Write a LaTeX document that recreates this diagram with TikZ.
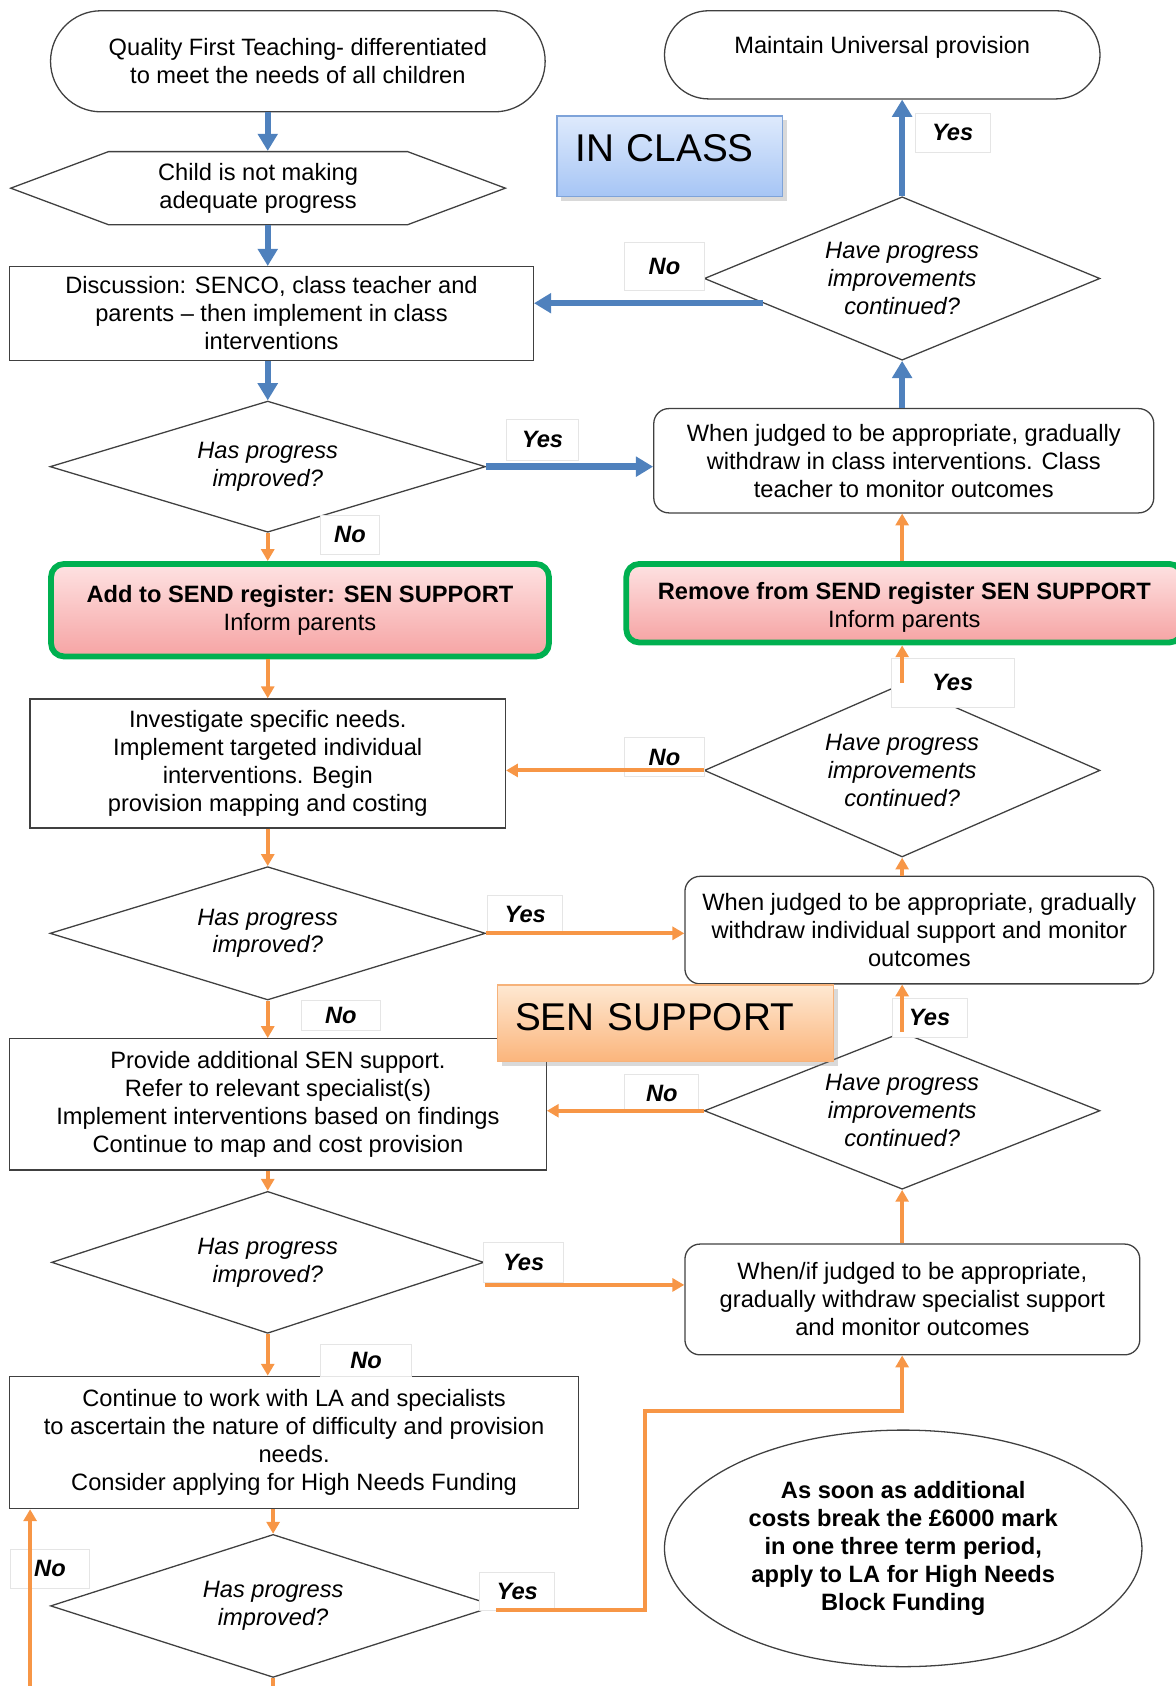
\documentclass[tikz,border=0pt]{standalone}
\usepackage{fontspec}
\setmainfont{Liberation Sans}
\usetikzlibrary{shapes.geometric,shapes.misc,shapes.symbols}
\usetikzlibrary{arrows.meta,shadows,calc}
\definecolor{classblue}{RGB}{79,129,189}
\definecolor{suporange}{RGB}{247,150,70}
\definecolor{reggreen}{RGB}{0,176,80}
\newcommand{\chartfont}{\fontsize{11pt}{13pt}\selectfont}
\newcommand{\bigchartfont}{\fontsize{18pt}{21pt}\selectfont}
\tikzset{term node/.style={rounded rectangle,draw=black!75,line width=0.6pt,align=center,inner sep=0pt},
  proc node/.style={rectangle,draw=black!75,line width=0.6pt,align=center,inner sep=0pt},
  soft node/.style={rectangle,rounded corners=7pt,draw=black!75,line width=0.6pt,align=center,inner sep=0pt},
  hex node/.style={signal,signal to=east and west,signal pointer angle=41,draw=black!75,line width=0.6pt,align=center,inner sep=0pt},
  dec node/.style={diamond,aspect=2.5,draw=black!75,line width=0.6pt,align=center,inner sep=0pt,font=\chartfont\itshape},
  reg node/.style={rectangle,rounded corners=6pt,draw=reggreen,line width=2.7pt,top color={rgb,255:red,254;green,226;blue,226},bottom color={rgb,255:red,246;green,164;blue,164},align=center,inner sep=0pt},
  head node/.style={rectangle,line width=0.6pt,align=left,font=\bigchartfont,text height=13pt,drop shadow={opacity=0.3,shadow xshift=2pt,shadow yshift=-2pt}},
  tag node/.style={rectangle,fill=white,draw=black!10,line width=0.4pt,font=\chartfont\bfseries\itshape,minimum width=35pt,minimum height=18pt,inner sep=0pt},
  blue arrow/.style={color=classblue,line width=3pt,-{Triangle[width=9pt,length=8pt]}},
  orange arrow/.style={color=suporange,line width=1.8pt,-{Triangle[width=6pt,length=5.5pt]}},}

\begin{document}
\begin{tikzpicture}[x=0.5pt,y=-0.5pt,font=\chartfont]
  \useasboundingbox (0,0) rectangle (1093,1568);
  \coordinate (lx) at (249,0);
  \coordinate (rx) at (839,0);

  % left column
  \node[term node,minimum width=230pt,minimum height=47pt] (qft) at (277,57) {Quality First Teaching- differentiated\\to meet the needs of all children};
  \node[hex node,minimum width=230pt,minimum height=34pt] (hex) at (240,175) {Child is not making\\adequate progress};
  \node[proc node,minimum width=243.5pt,minimum height=43.5pt] (disc) at (252.5,291.5) {Discussion: SENCO, class teacher and\\parents -- then implement in class\\interventions};
  \node[dec node,minimum width=202.5pt,minimum height=61pt] (d1) at (249,434) {Has progress\\improved?};
  \node[reg node,minimum width=231.5pt,minimum height=43pt] (add) at (279,567.5) {\textbf{Add to SEND register: SEN SUPPORT}\\Inform parents};
  \node[proc node,minimum width=221pt,minimum height=60pt] (inv) at (249,710) {Investigate specific needs.\\Implement targeted individual\\interventions. Begin\\provision mapping and costing};
  \node[dec node,minimum width=202.5pt,minimum height=62pt] (d2) at (249,868) {Has progress\\improved?};
  \node[proc node,minimum width=249.5pt,minimum height=61pt] (prov) at (258.5,1027) {Provide additional SEN support.\\Refer to relevant specialist(s)\\Implement interventions based on findings\\Continue to map and cost provision};
  \node[dec node,minimum width=201pt,minimum height=66pt] (d3) at (249,1174) {Has progress\\improved?};
  \node[proc node,minimum width=264.5pt,minimum height=61.5pt] (cont) at (273.5,1341.5) {Continue to work with LA and specialists\\to ascertain the nature of difficulty and provision\\needs.\\Consider applying for High Needs Funding};
  \node[dec node,minimum width=207pt,minimum height=66.5pt] (d4) at (254,1493.5) {Has progress\\improved?};

  % right column
  \node[term node,minimum width=202.5pt,minimum height=41pt,text height=8pt,text depth=9.3pt] (maintain) at (820.5,51) {Maintain Universal provision};
  \node[dec node,minimum width=184pt,minimum height=76pt] (dR1) at (839,259) {Have progress\\improvements\\continued?};
  \node[soft node,minimum width=232.5pt,minimum height=48.5pt] (wd1) at (840.5,428.5) {When judged to be appropriate, gradually\\withdraw in class interventions. Class\\teacher to monitor outcomes};
  \node[reg node,minimum width=258.5pt,minimum height=36.5pt,text height=25pt] (remove) at (841,561) {\textbf{Remove from SEND register SEN SUPPORT}\\Inform parents};
  \node[dec node,minimum width=184pt,minimum height=80.5pt] (dR2) at (839,716.5) {Have progress\\improvements\\continued?};
  \node[soft node,minimum width=218pt,minimum height=50pt] (wd2) at (855,865) {When judged to be appropriate, gradually\\withdraw individual support and monitor\\outcomes};
  \node[dec node,minimum width=184pt,minimum height=73pt] (dR3) at (839,1033) {Have progress\\improvements\\continued?};
  \node[soft node,minimum width=211.5pt,minimum height=51.5pt] (wd3) at (848.5,1208.5) {When/if judged to be appropriate,\\gradually withdraw specialist support\\and monitor outcomes};
  \node[ellipse,draw=black!75,line width=0.6pt,align=center,inner sep=0pt,font=\chartfont\bfseries,minimum width=222pt,minimum height=110pt] (high) at (840,1440) {As soon as additional\\costs break the £6000 mark\\in one three term period,\\apply to LA for High Needs\\Block Funding};

  % yes / no tags
  \node[tag node] (tyes0) at (886,123.5) {Yes};
  \node[tag node,minimum width=37pt,minimum height=22.5pt] (tno1) at (618,247.5) {No};
  \node[tag node,minimum width=33.5pt,minimum height=19pt] (tyes1) at (504.5,409) {Yes};
  \node[tag node,minimum width=27.5pt] (tno2) at (325.5,497.5) {No};
  \node[tag node,minimum width=57pt,minimum height=23pt] (tyes2) at (886,635) {Yes};
  \node[tag node,minimum width=37pt] (tno3) at (618,704) {No};
  \node[tag node] (tyes3) at (488.5,850.5) {Yes};
  \node[tag node,minimum width=37pt,minimum height=14pt] (tno4) at (317,944) {No};
  \node[tag node] (tyes4) at (864.5,946.5) {Yes};
  \node[tag node,minimum width=34.5pt] (tno5) at (615.5,1017) {No};
  \node[tag node,minimum width=37pt,minimum height=19pt] (tyes5) at (487,1174) {Yes};
  \node[tag node,minimum width=42.5pt,minimum height=15pt] (tno6) at (340.5,1265) {No};
  \node[tag node] (tyes6) at (481,1480) {Yes};
  \node[tag node,minimum width=36.5pt] (tno7) at (46.5,1459) {No};

  % connectors
  \coordinate (nostart) at ($(dR1.west)!0.3!(dR1.south)$);
  \coordinate (y3) at ([yshift=-10.5pt]d3.east);
  \coordinate (y4) at ([yshift=-2pt]d4.east);
  \coordinate (ybend) at (600,1312);
  \coordinate (lbend) at (28,1580);
  \path[blue arrow]
  (qft.south -| lx) edge (hex.north -| lx)
  (hex.south -| lx) edge (disc.north -| lx)
  (disc.south -| lx) edge (d1.north)
  (d1.east) edge (wd1.west |- d1.east)
  (wd1.north -| rx) edge (dR1.south)
  (dR1.north) edge (maintain.south -| rx)
  (nostart) edge (disc.east |- nostart);
  \path[orange arrow]
  (d1.south) edge (add.north -| lx)
  (add.south -| lx) edge (inv.north -| lx)
  (inv.south -| lx) edge (d2.north)
  (d2.east) edge (wd2.west |- d2.east)
  (d2.south) edge (prov.north -| lx)
  (prov.south -| lx) edge (d3.north)
  (y3) edge (y3 -| wd3.west)
  (d3.south) edge (cont.north -| lx)
  (cont.south -| d4.north) edge (d4.north)
  (dR2.west) edge (inv.east |- dR2.west)
  (dR3.west) edge (prov.east |- dR3.west)
  (remove.north -| rx) edge (wd1.south -| rx)
  (dR2.north) edge (remove.south -| rx)
  (wd2.north -| rx) edge (dR2.south)
  (dR3.north) edge (wd2.south -| rx)
  (wd3.north -| rx) edge (dR3.south);
  \draw[orange arrow] (y4) -| (ybend) -| (wd3.south -| rx);
  \draw[orange arrow] (d4.south) |- (lbend) -- (cont.south -| lbend);

  % stage headings
  \node[head node,draw={rgb,255:red,126;green,163;blue,217},top color={rgb,255:red,222;green,234;blue,252},bottom color={rgb,255:red,166;green,197;blue,245},text width=88pt,inner xsep=8.5pt,inner ysep=0pt,minimum height=37.5pt,text depth=8.5pt] (inclass) at (623,145.5) {IN CLASS};
  \node[head node,draw={rgb,255:red,246;green,178;blue,122},top color={rgb,255:red,254;green,232;blue,210},bottom color={rgb,255:red,251;green,181;blue,124},text width=140pt,inner xsep=8pt,inner ysep=0pt,minimum height=35.5pt,text depth=6.5pt] (sensup) at (619,951.5) {SEN SUPPORT};
\end{tikzpicture}
\end{document}
